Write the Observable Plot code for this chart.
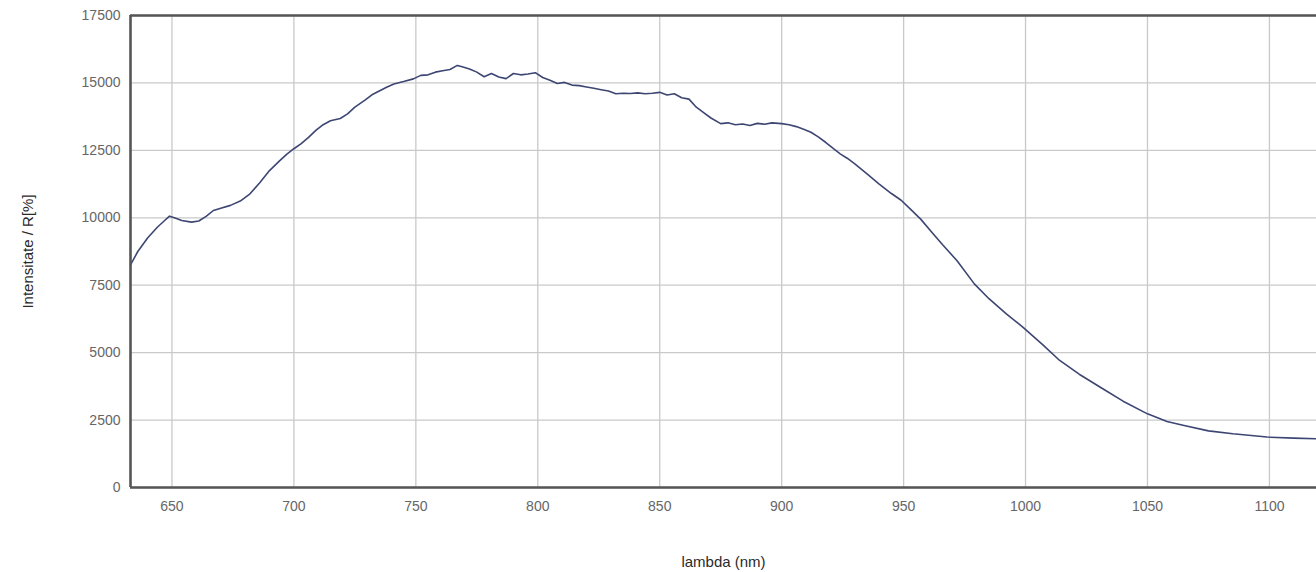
<!DOCTYPE html>
<html>
<head>
<meta charset="utf-8">
<script src="https://cdn.jsdelivr.net/npm/d3@7"></script>
<script src="https://cdn.jsdelivr.net/npm/@observablehq/plot@0.6"></script>
<style>
  html, body { margin: 0; padding: 0; background: #fff; }
  #chart svg { display: block; }
</style>
</head>
<body>
<div id="chart"></div>
<script>
const lambdaNm = [
  633, 636, 640, 644, 647, 649, 651, 654, 658, 661, 664, 667, 670, 674, 678, 682, 686, 690, 694, 697,
  700, 703, 706, 709, 712, 715, 719, 722, 725, 729, 732, 735, 738, 741, 745, 749, 752, 755, 758, 761,
  764, 767, 769, 772, 775, 778, 781, 784, 787, 790, 793, 796, 799, 802, 805, 808, 811, 814, 817, 820,
  823, 826, 829, 832, 835, 838, 841, 844, 847, 850, 853, 856, 859, 862, 865, 868, 871, 875, 878, 881,
  884, 887, 890, 893, 896, 900, 903, 906, 909, 912, 915, 918, 921, 924, 927, 930, 935, 940, 945, 949,
  953, 957, 962, 966, 972, 979, 985, 992, 999, 1007, 1014, 1022, 1031, 1040, 1050, 1058, 1065, 1075, 1085, 1099,
  1110, 1119
];
const intensity = [
  8250, 8750, 9250, 9650, 9900, 10060, 10000, 9900, 9840, 9880, 10050, 10270, 10350, 10460, 10620, 10890, 11300, 11750, 12100, 12350,
  12560, 12750, 12980, 13240, 13450, 13600, 13680, 13850, 14100, 14350, 14560, 14700, 14840, 14960, 15050, 15150, 15280, 15300, 15400, 15450,
  15500, 15650, 15600, 15520, 15400, 15230, 15350, 15220, 15160, 15350, 15300, 15330, 15380, 15200, 15100, 14980, 15020, 14920, 14900, 14850,
  14800, 14750, 14700, 14600, 14620, 14610, 14630, 14600, 14620, 14650, 14550, 14600, 14450, 14400, 14100, 13900, 13700, 13490, 13520, 13450,
  13480, 13420, 13500, 13470, 13520, 13490, 13450, 13380, 13280, 13170, 13000, 12800, 12580, 12370, 12200, 12000, 11630, 11250, 10900, 10650,
  10300, 9950, 9420, 9000, 8400, 7550, 7000, 6450, 5940, 5300, 4710, 4200, 3700, 3200, 2730, 2450, 2300, 2100, 1990, 1870,
  1830, 1810
];
const xTicks = [650, 700, 750, 800, 850, 900, 950, 1000, 1050, 1100];
const yTicks = [0, 2500, 5000, 7500, 10000, 12500, 15000, 17500];
const xDomain = [633, 1119.3];
const yDomain = [0, 17500];
const xLabel = "lambda (nm)";
const yLabel = "Intensitate / R[%]";

const data = lambdaNm.map((x, i) => ({x, y: intensity[i]}));

const chart = Plot.plot({
  width: 1316,
  height: 572,
  marginTop: 15,
  marginBottom: 85,
  marginLeft: 130,
  marginRight: 0,
  style: {fontFamily: "'Liberation Sans', Arial, sans-serif", background: "#fff"},
  x: {domain: xDomain},
  y: {domain: yDomain},
  marks: [
    Plot.gridX(xTicks, {stroke: "#c9c9c9", strokeOpacity: 1, strokeWidth: 1.3}),
    Plot.gridY(yTicks, {stroke: "#c9c9c9", strokeOpacity: 1, strokeWidth: 1.3}),
    Plot.axisX({ticks: xTicks, tickSize: 0, tickPadding: 14, tickFormat: d3.format("d"),
      fontSize: 14, color: "#666", label: null}),
    Plot.axisY({ticks: yTicks, tickSize: 0, tickPadding: 10, tickFormat: d3.format("d"),
      fontSize: 14, color: "#666", label: null}),
    Plot.text([xLabel], {frameAnchor: "bottom", dy: 75, fontSize: 15, fill: "#2a2a2a", lineAnchor: "middle", textAnchor: "middle"}),
    Plot.text([yLabel], {frameAnchor: "left", dx: -102, rotate: -90, fontSize: 15, fill: "#2a2a2a", textAnchor: "middle", lineAnchor: "middle"}),
    Plot.line(data, {x: "x", y: "y", stroke: "#3d4673", strokeWidth: 1.6}),
    Plot.ruleY([yDomain[0], yDomain[1]], {stroke: "#555", strokeWidth: 2.6}),
    Plot.ruleX([xDomain[0]], {stroke: "#555", strokeWidth: 2.6})
  ]
});
document.getElementById("chart").appendChild(chart);
</script>
</body>
</html>
